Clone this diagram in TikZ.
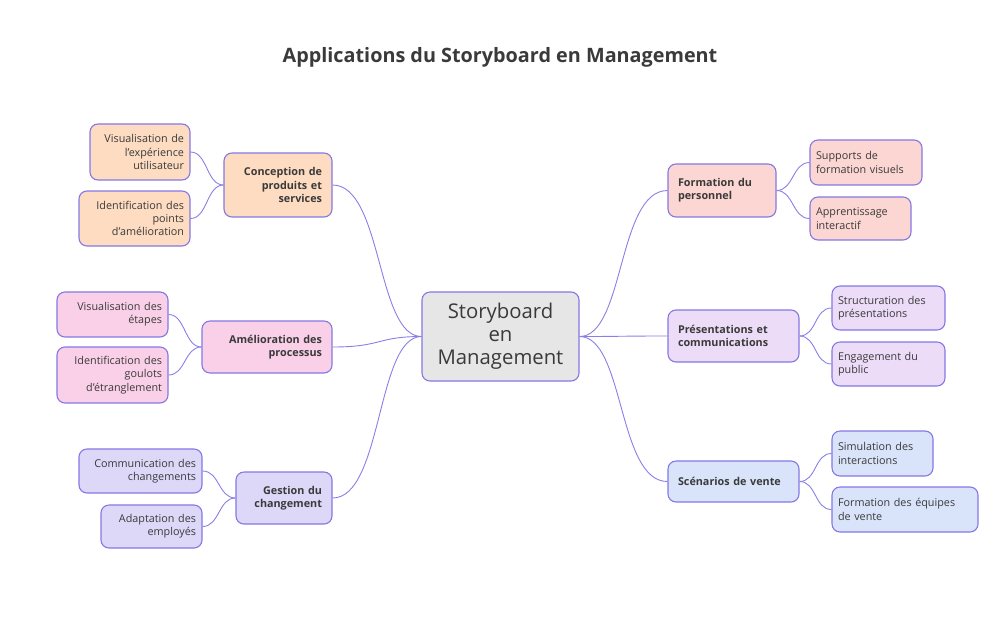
\documentclass[tikz,border=0pt]{standalone}
\usepackage{fontspec}
\setmainfont{Open Sans}
\definecolor{bc}{HTML}{8478E4}
\definecolor{lc}{HTML}{8A7FE6}
\definecolor{tc}{HTML}{3A3A3A}
\definecolor{peach}{HTML}{FDDCC2}
\definecolor{pinkf}{HTML}{F9D0E8}
\definecolor{lav}{HTML}{DDD8F8}
\definecolor{salmon}{HTML}{FBD6D2}
\definecolor{lilac}{HTML}{ECDCF8}
\definecolor{skyb}{HTML}{D9E4FB}
\definecolor{greyf}{HTML}{E6E6E6}
\begin{document}
\begin{tikzpicture}[x=1pt,y=-1pt,
  box/.style={draw=bc, line width=1.1pt, rounded corners=8pt, text=tc,
    inner xsep=6pt, inner ysep=2pt, font=\fontsize{10.8}{13.2}\selectfont},
  lbox/.style={box, align=right},
  rbox/.style={box, align=left},
  mainf/.style={inner xsep=10pt, font=\fontsize{10.8}{13.2}\selectfont\bfseries},
  link/.style={draw=lc, line width=0.9pt}
]
\useasboundingbox (0,0) rectangle (1000,627);
\node[font=\fontsize{19.8}{23}\selectfont\bfseries, text=tc] (title) at (500,57) {Applications du Storyboard en Management};

% center
\node[box, fill=greyf, align=center, text width=145pt, minimum height=89pt, font=\fontsize{20.3}{23}\selectfont] (c) at (500.5,336.5) {Storyboard\\en\\Management};

% left main nodes
\node[lbox, mainf, fill=peach, text width=88pt, minimum height=64pt] (m1) at (278,185) {Conception de\\produits et\\services};
\node[lbox, mainf, fill=pinkf, text width=110pt, minimum height=52pt] (m2) at (267,347) {Amélioration des\\processus};
\node[lbox, mainf, fill=lav, text width=76pt, minimum height=52pt] (m3) at (284,498) {Gestion du\\changement};

% left children
\node[lbox, fill=peach, text width=88pt, minimum height=56pt] (a1) at (140,152) {Visualisation de\\l'expérience\\utilisateur};
\node[lbox, fill=peach, text width=99pt, minimum height=55pt] (a2) at (134.5,218.5) {Identification des\\points\\d'amélioration};
\node[lbox, fill=pinkf, text width=99pt, minimum height=45pt] (b1) at (112.5,314.5) {Visualisation des\\étapes};
\node[lbox, fill=pinkf, text width=99pt, minimum height=56pt] (b2) at (112.5,375) {Identification des\\goulots\\d'étranglement};
\node[lbox, fill=lav, text width=111pt, minimum height=44pt] (g1) at (140.5,471) {Communication des\\changements};
\node[lbox, fill=lav, text width=89pt, minimum height=43pt] (g2) at (151.5,526.5) {Adaptation des\\employés};

% right main nodes
\node[rbox, mainf, fill=salmon, text width=88pt, minimum height=53pt] (n1) at (722,190.5) {Formation du\\personnel};
\node[rbox, mainf, fill=lilac, text width=111pt, minimum height=52pt] (n2) at (733.5,336) {Présentations et\\communications};
\node[rbox, mainf, fill=skyb, text width=111pt, minimum height=41pt] (n3) at (733.5,481.5) {Scénarios de vente};

% right children
\node[rbox, fill=salmon, text width=100pt, minimum height=45pt] (p1) at (866,162.5) {Supports de\\formation visuels};
\node[rbox, fill=salmon, text width=89pt, minimum height=43pt] (p2) at (860.5,218.5) {Apprentissage\\interactif};
\node[rbox, fill=lilac, text width=101pt, minimum height=44pt] (q1) at (888.5,308) {Structuration des\\présentations};
\node[rbox, fill=lilac, text width=101pt, minimum height=44pt] (q2) at (888.5,364) {Engagement du\\public};
\node[rbox, fill=skyb, text width=89pt, minimum height=45pt] (s1) at (882.5,453.5) {Simulation des\\interactions};
\node[rbox, fill=skyb, text width=134pt, minimum height=45pt] (s2) at (905,509.5) {Formation des équipes\\de vente};

% connectors center -> main
\foreach \m in {m1,m2,m3}
  \draw[link] (c.west) .. controls +(-45,0) and +(50,0) .. (\m.east);
\foreach \m in {n1,n2,n3}
  \draw[link] (c.east) .. controls +(45,0) and +(-50,0) .. (\m.west);

% main -> children
\draw[link] (m1.west) .. controls +(-17,0) and +(17,0) .. (a1.east);
\draw[link] (m1.west) .. controls +(-17,0) and +(17,0) .. (a2.east);
\draw[link] (m2.west) .. controls +(-17,0) and +(17,0) .. (b1.east);
\draw[link] (m2.west) .. controls +(-17,0) and +(17,0) .. (b2.east);
\draw[link] (m3.west) .. controls +(-17,0) and +(17,0) .. (g1.east);
\draw[link] (m3.west) .. controls +(-17,0) and +(17,0) .. (g2.east);
\draw[link] (n1.east) .. controls +(17,0) and +(-17,0) .. (p1.west);
\draw[link] (n1.east) .. controls +(17,0) and +(-17,0) .. (p2.west);
\draw[link] (n2.east) .. controls +(17,0) and +(-17,0) .. (q1.west);
\draw[link] (n2.east) .. controls +(17,0) and +(-17,0) .. (q2.west);
\draw[link] (n3.east) .. controls +(17,0) and +(-17,0) .. (s1.west);
\draw[link] (n3.east) .. controls +(17,0) and +(-17,0) .. (s2.west);
\end{tikzpicture}
\end{document}
